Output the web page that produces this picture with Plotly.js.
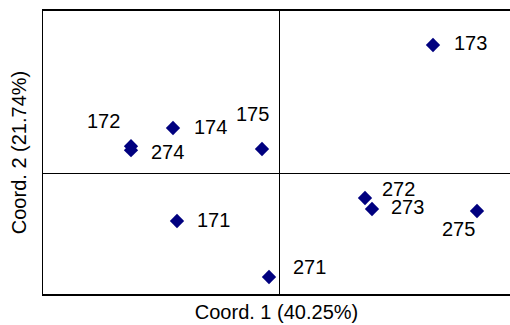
<!DOCTYPE html>
<html>
<head>
<meta charset="utf-8">
<script src="https://cdn.plot.ly/plotly-3.0.1.min.js"></script>
<style>html,body{margin:0;padding:0;background:#fff;}#chart{width:510px;height:325px;}</style>
</head>
<body>
<div id="chart"></div>
<script>
// Sample names and their coordinates on the first two principal coordinates
const samples = ["171", "172", "173", "174", "175", "271", "272", "273", "274", "275"];
const coord1 = [-0.255, -0.370, 0.385, -0.265, -0.0425, -0.025, 0.215, 0.2325, -0.370, 0.495];
const coord2 = [-0.120, 0.067, 0.320, 0.1125, 0.060, -0.260, -0.0625, -0.090, 0.057, -0.095];
const xTitle = "Coord. 1 (40.25%)";
const yTitle = "Coord. 2 (21.74%)";

// label placement (pixel shifts from each point), styling only
const labelShift = {
  "171": [36, 1], "172": [-28, 25], "173": [37, 2], "174": [37, 1], "175": [-10, 35],
  "271": [40, 10], "272": [33, 9], "273": [35, 2], "274": [36, -2], "275": [-19, -18]
};

const font = {family: "Liberation Sans, Arial, sans-serif", size: 20, color: "#000"};

const trace = {
  type: "scatter", mode: "markers",
  x: coord1, y: coord2, text: samples, hoverinfo: "text",
  marker: {symbol: "diamond", size: 11, color: "#00007f"}
};

const annotations = samples.map((s, i) => ({
  x: coord1[i], y: coord2[i], xref: "x", yref: "y", text: s, showarrow: false,
  xshift: labelShift[s][0], yshift: labelShift[s][1], font: font
}));

const layout = {
  width: 510, height: 325,
  margin: {l: 43, r: 0, t: 11, b: 31},
  paper_bgcolor: "#fff", plot_bgcolor: "#fff",
  showlegend: false,
  font: font,
  xaxis: {
    range: [-0.59, 0.5775], showgrid: false, showticklabels: false, ticks: "",
    zeroline: true, zerolinecolor: "#000", zerolinewidth: 1,
    showline: true, linecolor: "#000", linewidth: 2, mirror: true,
    title: {text: xTitle, font: font, standoff: 10}
  },
  yaxis: {
    range: [-0.3025, 0.405], showgrid: false, showticklabels: false, ticks: "",
    zeroline: true, zerolinecolor: "#000", zerolinewidth: 1,
    showline: true, linecolor: "#000", linewidth: 1.5,
    title: {text: yTitle, font: font, standoff: 9}
  },
  annotations: annotations
};

Plotly.newPlot("chart", [trace], layout, {displayModeBar: false, staticPlot: true});
</script>
</body>
</html>
